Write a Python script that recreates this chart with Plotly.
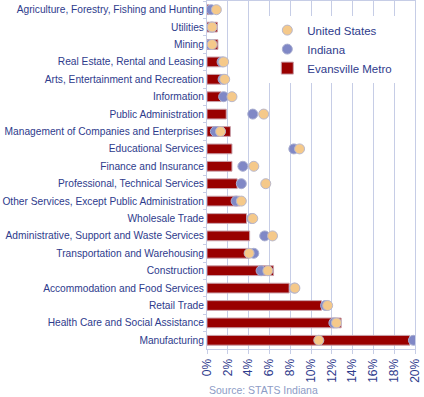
import plotly.graph_objects as go

categories = [
    "Agriculture, Forestry, Fishing and Hunting",
    "Utilities",
    "Mining",
    "Real Estate, Rental and Leasing",
    "Arts, Entertainment and Recreation",
    "Information",
    "Public Administration",
    "Management of Companies and Enterprises",
    "Educational Services",
    "Finance and Insurance",
    "Professional, Technical Services",
    "Other Services, Except Public Administration",
    "Wholesale Trade",
    "Administrative, Support and Waste Services",
    "Transportation and Warehousing",
    "Construction",
    "Accommodation and Food Services",
    "Retail Trade",
    "Health Care and Social Assistance",
    "Manufacturing",
]

evansville = [0.2, 1.0, 1.05, 1.3, 1.35, 1.35, 1.85, 2.25, 2.4, 2.4, 2.9, 3.15,
              3.8, 4.1, 4.0, 6.4, 7.9, 11.0, 12.9, 19.5]
indiana = [0.4, 0.45, 0.3, 1.45, 1.55, 1.6, 4.4, 0.8, 8.35, 3.45, 3.3, 2.8,
           4.3, 5.55, 4.5, 5.2, 8.4, 11.4, 12.2, 19.85]
united_states = [0.9, 0.5, 0.5, 1.6, 1.7, 2.4, 5.45, 1.3, 8.9, 4.5, 5.65, 3.3,
                 4.4, 6.3, 4.05, 5.85, 8.45, 11.6, 12.45, 10.75]

x_ticks = list(range(0, 21, 2))
x_tick_labels = [f"{v}%" for v in x_ticks]

navy = "#2e3b8c"
grid = "#c6cde6"
font_family = "Liberation Sans, Arial"

fig = go.Figure()
fig.add_trace(go.Bar(
    y=categories, x=evansville, orientation="h", name="Evansville Metro",
    marker=dict(color="#990000", line=dict(color="#c9a0aa", width=1)),
    width=0.56,
))
fig.add_trace(go.Scatter(
    y=categories, x=indiana, mode="markers", name="Indiana",
    marker=dict(color="#8088c6", size=10, line=dict(color="#a9aed0", width=1)),
))
fig.add_trace(go.Scatter(
    y=categories, x=united_states, mode="markers", name="United States",
    marker=dict(color="#f5c98a", size=10, line=dict(color="#b9b8cc", width=1)),
))

fig.update_layout(
    width=424, height=397,
    margin=dict(l=207, r=9, t=1, b=48, autoexpand=False),
    plot_bgcolor="white", paper_bgcolor="white",
    hovermode=False,
    showlegend=True,
    legend=dict(
        x=0.29, y=0.958, xanchor="left", yanchor="top",
        bgcolor="white", borderwidth=0,
        traceorder="reversed",
        font=dict(family=font_family, size=11.5, color=navy),
    ),
    font=dict(family=font_family, size=12, color=navy),
    annotations=[dict(
        text="Source: STATS Indiana", xref="paper", yref="paper",
        x=0, y=-0.118, xanchor="left", yanchor="middle", showarrow=False,
        font=dict(family=font_family, size=10.5, color="#8d9cc6"),
    )],
)
fig.update_xaxes(
    automargin=False,
    range=[0, 20], tickvals=x_ticks, ticktext=x_tick_labels, tickangle=-90,
    showgrid=True, gridcolor=grid, gridwidth=1,
    showline=True, linecolor=grid, mirror=True,
    ticks="outside", ticklen=4, tickcolor=grid,
    zeroline=False,
    tickfont=dict(family=font_family, size=12, color=navy),
)
fig.update_yaxes(
    automargin=False,
    categoryorder="array", categoryarray=categories,
    range=[len(categories) - 0.5, -0.5],
    showline=True, linecolor=grid, mirror=True,
    ticks="outside", ticklen=3, tickcolor=grid, tickson="boundaries",
    showgrid=False,
    tickfont=dict(family=font_family, size=10.2, color=navy),
)

fig.write_html("out.html", config={"displayModeBar": False},
               post_script="document.body.style.margin='0';")
